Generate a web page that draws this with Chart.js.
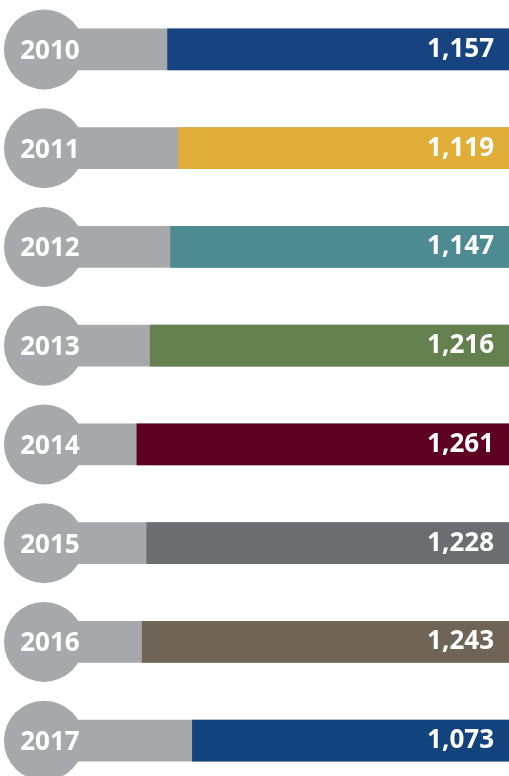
<!DOCTYPE html>
<html>
<head>
<meta charset="utf-8">
<title>Yearly totals 2010-2017</title>
<script src="https://cdn.jsdelivr.net/npm/chart.js@4/dist/chart.umd.min.js"></script>
<style>
  html, body { margin: 0; padding: 0; background: #fff; overflow: hidden; }
  #wrap { width: 509px; height: 790px; }
</style>
</head>
<body>
<div id="wrap"><canvas id="chart" width="509" height="790"></canvas></div>
<script>
// data
const years = ["2010", "2011", "2012", "2013", "2014", "2015", "2016", "2017"];
const totals = [1157, 1119, 1147, 1216, 1261, 1228, 1243, 1073];
const barColors = ["#174480", "#e0ad38", "#4e8a91", "#65804f", "#5d0022", "#6c6d71", "#706457", "#13437c"];
const axisMax = 1725;
const trackLength = 1576; // grey track runs into the circle

const grey = "#a7a8ab";

// circles with the year + value labels at the right end
const labelPlugin = {
  id: "labels",
  afterDatasetsDraw(chart) {
    const ctx = chart.ctx;
    const xScale = chart.scales.x;
    const yScale = chart.scales.y;
    const cx = xScale.getPixelForValue(trackLength);
    ctx.save();
    years.forEach((year, i) => {
      const y = yScale.getPixelForValue(i);

      // circle
      ctx.fillStyle = grey;
      ctx.beginPath();
      ctx.arc(cx, y, 40, 0, Math.PI * 2);
      ctx.fill();

      // year
      ctx.fillStyle = "#fff";
      ctx.font = "bold 26px 'Open Sans'";
      ctx.textAlign = "center";
      ctx.textBaseline = "middle";
      ctx.fillText(year, cx + 6, y + 2);

      // value
      ctx.font = "bold 26px 'Open Sans'";
      ctx.textAlign = "right";
      ctx.fillText(totals[i].toLocaleString("en-US"), xScale.getPixelForValue(0) - 15, y);
    });
    ctx.restore();
  },
};

new Chart(document.getElementById("chart"), {
  type: "bar",
  data: {
    labels: years,
    datasets: [
      {
        data: totals,
        backgroundColor: barColors,
        barThickness: 41,
        grouped: false,
        order: 1,
      },
      {
        data: years.map(() => trackLength),
        backgroundColor: grey,
        barThickness: 41,
        grouped: false,
        order: 2,
      },
    ],
  },
  options: {
    indexAxis: "y",
    responsive: false,
    animation: false,
    layout: { padding: 0 },
    plugins: {
      legend: { display: false },
      tooltip: { enabled: false },
    },
    scales: {
      x: { type: "linear", reverse: true, min: 0, max: axisMax, display: false },
      y: { display: false },
    },
  },
  plugins: [labelPlugin],
});
</script>
</body>
</html>
